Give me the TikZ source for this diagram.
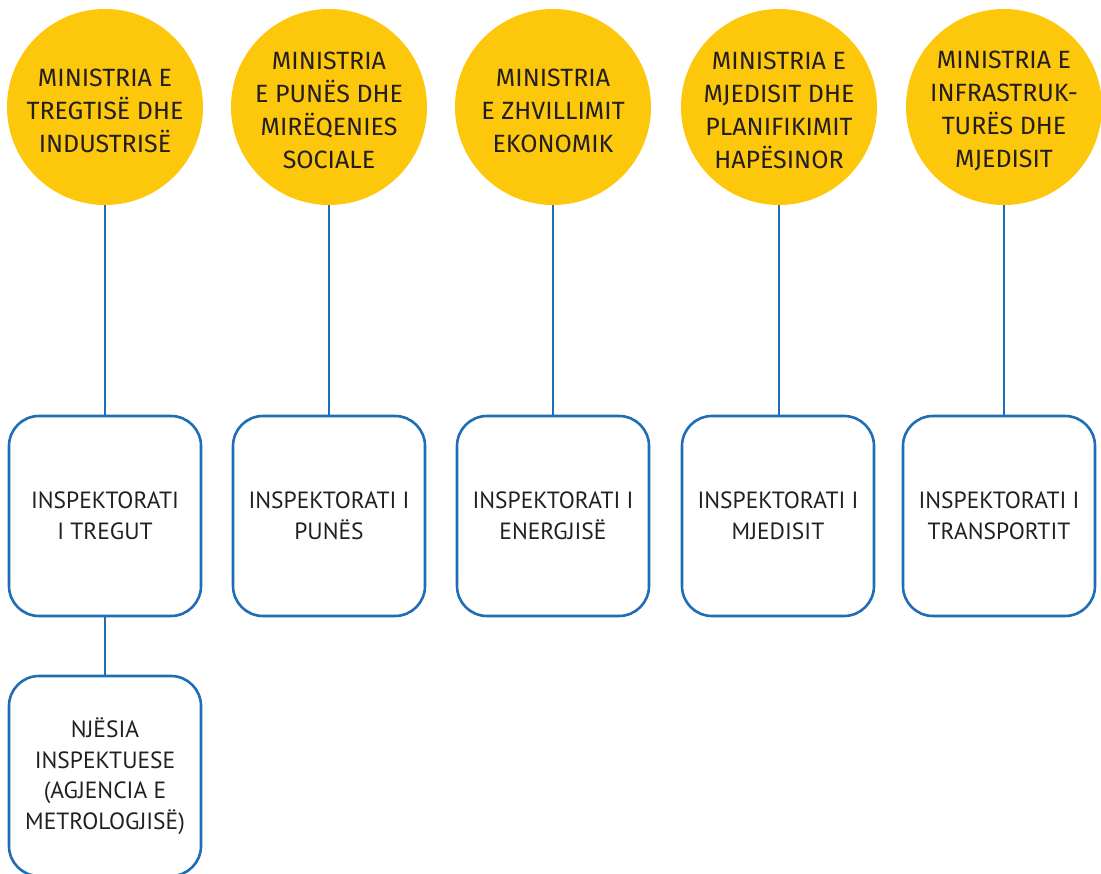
\documentclass[tikz,border=0pt]{standalone}
\usepackage{fontspec}
\setmainfont{Fira Sans}
\newfontfamily\boxfont{PT Sans}
\definecolor{myyellow}{HTML}{FDC70C}
\definecolor{myblue}{HTML}{1F6DB5}
\definecolor{mytext}{HTML}{231F20}
\begin{document}
\begin{tikzpicture}[x=1pt,y=-1pt,
  ministry/.style={circle,fill=myyellow,minimum size=196pt,inner sep=0pt},
  mtext/.style={align=center,text=mytext,font=\fontsize{25}{33}\selectfont,inner sep=0pt},
  inspbox/.style={draw=myblue,line width=2.6pt,rounded corners=30pt,minimum width=192pt,minimum height=200pt,fill=white,inner sep=0pt},
  btext/.style={align=center,text=mytext,font=\boxfont\fontsize{23.5}{30.5}\selectfont,inner sep=0pt},
  link/.style={draw=myblue,line width=2.6pt}]
\useasboundingbox (0,0) rectangle (1101,874);
\clip (0,0) rectangle (1101,874);
% ministries
\node[ministry] (c1) at (105,107) {};
\node[ministry] (c2) at (329,107) {};
\node[ministry] (c3) at (553,107) {};
\node[ministry] (c4) at (779,107) {};
\node[ministry] (c5) at (1004,107) {};
\node[mtext] (t1) at ([yshift=-3.5pt]c1.center) {MINISTRIA E\\TREGTISË DHE\\INDUSTRISË};
\node[mtext] (t2) at ([yshift=-3.5pt]c2.center) {MINISTRIA\\E PUNËS DHE\\MIRËQENIES\\SOCIALE};
\node[mtext] (t3) at ([yshift=-3.5pt]c3.center) {MINISTRIA\\E ZHVILLIMIT\\EKONOMIK};
\node[mtext] (t4) at ([yshift=-3.5pt]c4.center) {MINISTRIA E\\MJEDISIT DHE\\PLANIFIKIMIT\\HAPËSINOR};
\node[mtext] (t5) at ([yshift=-3.5pt]c5.center) {MINISTRIA E\\INFRASTRUK-\\TURËS DHE\\MJEDISIT};
% inspectorates
\node[inspbox] (b1) at (105,516) {};
\node[inspbox] (b2) at (329,516) {};
\node[inspbox] (b3) at (553,516) {};
\node[inspbox] (b4) at (778,516) {};
\node[inspbox] (b5) at (999,516) {};
\node[inspbox] (b6) at (105,776) {};
\node[btext] (s1) at (b1.center) {INSPEKTORATI\\I TREGUT};
\node[btext] (s2) at (b2.center) {INSPEKTORATI I\\PUNËS};
\node[btext] (s3) at (b3.center) {INSPEKTORATI I\\ENERGJISË};
\node[btext] (s4) at (b4.center) {INSPEKTORATI I\\MJEDISIT};
\node[btext] (s5) at (b5.center) {INSPEKTORATI I\\TRANSPORTIT};
\node[btext] (s6) at (b6.center) {NJËSIA\\INSPEKTUESE\\(AGJENCIA E\\METROLOGJISË)};
% connectors
\draw[link] (c1.south) -- (c1.south |- b1.north);
\draw[link] (c2.south) -- (c2.south |- b2.north);
\draw[link] (c3.south) -- (c3.south |- b3.north);
\draw[link] (c4.south) -- (c4.south |- b4.north);
\draw[link] (c5.south) -- (c5.south |- b5.north);
\draw[link] (b1.south) -- (b6.north);
\end{tikzpicture}
\end{document}
